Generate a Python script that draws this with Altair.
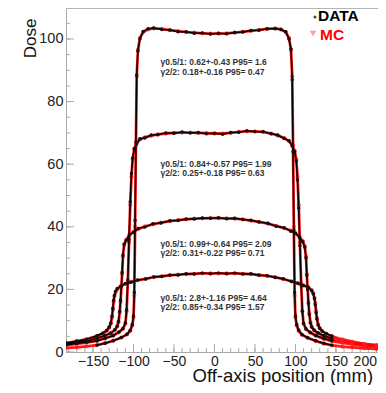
import altair as alt
import pandas as pd

# ---------------- data ----------------
x_A = [-183, -170, -158, -145, -135, -125, -115, -108, -104, -101.5, -100, -99, -98, -97, -96, -94.5, -92, -88, -82,
       -75, -65, -55, -45, -35, -25, -15, -5, 5, 15, 25, 35, 45, 55, 65, 75,
       82, 88, 92, 94.5, 96, 97, 98, 99, 100, 101.5, 104, 108, 115, 125, 135, 145, 158, 170, 185, 200, 212]
mc_A = [1.3, 1.5, 1.8, 2.2, 2.8, 3.6, 4.6, 5.6, 6.8, 8.5, 11, 18, 40, 66, 88, 96.5, 100.3, 102.2, 103.1,
        103.4, 103.2, 102.8, 102.5, 102.2, 102.0, 101.8, 101.7, 101.7, 101.8, 102.0, 102.3, 102.6, 102.9, 103.2, 103.4,
        103.1, 102.2, 100.3, 96.5, 88, 66, 40, 18, 11, 8.5, 6.7, 5.5, 4.5, 3.5, 2.7, 2.1, 1.7, 1.5, 1.2, 1.0, 0.9]
data_A = [None, None, None, 2.2, 2.8, 3.6, 4.6, 5.7, 6.9, 8.8, 11.5, 19, 42, 67, 88.5, 96.2, 100.1, 102.4, 103.3,
          103.5, 103.0, 102.9, 102.3, 102.3, 101.8, 101.9, 101.6, 101.8, 101.7, 102.1, 102.2, 102.7, 102.8, 103.3, 103.3,
          103.0, 102.3, 100.0, 96.8, 87, 64, 39, 19, 11.5, 8.8, 7.0, 5.6, 4.6, 3.6, 2.8, 2.2, None, None, None, None, None]

x_B = [-183, -170, -158, -145, -135, -125, -118, -113, -110, -108.5, -107, -105.5, -104, -102.5, -101, -99, -96, -92,
       -86, -78, -70, -60, -50, -40, -30, -20, -10, 0, 10, 20, 30, 40, 50, 60, 70, 78, 86, 92, 96, 99, 101, 102.5,
       104, 105.5, 107, 108.5, 110, 113, 118, 125, 135, 145, 158, 170, 185, 200, 212]
mc_B = [2.2, 2.6, 3.0, 3.6, 4.3, 5.3, 6.3, 7.4, 9.0, 13, 22, 35, 47, 56, 61.5, 64.8, 66.8, 67.9, 68.6, 69.1,
        69.5, 69.8, 70.0, 70.1, 70.1, 70.0, 69.9, 69.8, 69.8, 70.0, 70.3, 70.5, 70.5, 70.3, 69.8, 69.2,
        68.4, 67.4, 66.0, 64.3, 61.5, 56, 47, 35, 22, 13, 9.0, 7.3, 6.2, 5.2, 4.2, 3.5, 2.9, 2.5, 2.0, 1.7, 1.5]
data_B = [2.3, 2.7, 3.1, 3.5, 4.4, 5.2, 6.4, 7.5, 9.3, 13.5, 23, 36, 48, 57, 62, 65.0, 66.6, 68.1, 68.4, 69.3,
          69.4, 70.0, 69.9, 70.3, 70.0, 70.1, 69.7, 69.9, 69.6, 70.1, 70.2, 70.7, 70.4, 70.4, 69.7, 69.3,
          68.2, 67.5, 65.8, 64.0, 61, 55, 46, 34, 21.5, 13, 9.2, 7.4, 6.3, 5.3, 4.3, 3.6, None, None, None, None, None]

x_C = [-183, -170, -158, -145, -135, -128, -123, -120, -118.5, -117, -116, -115, -114, -113, -111.5, -109, -105, -100,
       -94, -86, -76, -66, -55, -45, -35, -25, -15, -5, 5, 15, 25, 35, 45, 55, 66, 76, 86, 94, 100, 105, 109, 111.5,
       113, 114, 115, 116, 117, 118.5, 120, 123, 128, 135, 145, 158, 170, 185, 200, 212]
mc_C = [2.5, 3.0, 3.5, 4.3, 5.2, 6.1, 7.0, 8.2, 9.5, 12.5, 16, 20.5, 25, 30.5, 34.2, 35.8, 37.3, 38.4, 39.3,
        40.1, 40.8, 41.3, 41.8, 42.1, 42.4, 42.6, 42.7, 42.8, 42.8, 42.7, 42.6, 42.4, 42.0, 41.6, 41.0, 40.3, 39.6,
        38.8, 37.9, 36.8, 35.4, 33.8, 30.5, 25, 20.5, 16, 12.5, 9.5, 8.1, 6.9, 6.0, 5.1, 4.2, 3.4, 2.9, 2.4, 2.0, 1.8]
data_C = [2.6, 3.1, 3.4, 4.4, 5.3, 6.0, 7.1, 8.3, 9.8, 13, 16.5, 21, 25.5, 31, 34.5, 35.6, 37.5, 38.2, 39.5,
          39.9, 41.0, 41.2, 41.9, 42.0, 42.5, 42.5, 42.8, 42.7, 42.9, 42.6, 42.7, 42.3, 42.1, 41.5, 41.1, 40.2, 39.7,
          38.6, 38.0, 36.6, 35.2, 33.5, 30, 24.5, 20, 15.5, 12, 9.3, 8.0, 7.0, 6.1, 5.2, 4.3, None, None, None, None, None]

x_D = [-183, -170, -158, -145, -138, -133, -130, -128, -126.5, -125.5, -124.5, -123.5, -122, -120, -116, -110, -103,
       -95, -85, -75, -65, -55, -45, -35, -25, -15, -5, 5, 15, 25, 35, 45, 55, 65, 75, 85, 95, 103, 110, 116, 120,
       122, 123.5, 124.5, 125.5, 126.5, 128, 130, 133, 138, 145, 158, 170, 185, 200, 212]
mc_D = [2.8, 3.4, 4.1, 5.1, 5.9, 6.8, 7.8, 9.0, 11, 13.5, 16, 17.8, 19.2, 20.1, 21.0, 21.8, 22.4, 22.9, 23.4,
        23.9, 24.2, 24.5, 24.7, 24.9, 25.0, 25.1, 25.1, 25.1, 25.1, 25.1, 25.0, 24.9, 24.6, 24.3, 23.9, 23.3,
        22.6, 21.9, 21.3, 20.6, 19.8, 18.8, 17.3, 15.5, 13, 10.8, 8.8, 7.6, 6.7, 5.8, 5.0, 4.0, 3.3, 2.6, 2.2, 1.9]
data_D = [2.9, 3.5, 4.0, 5.2, 6.0, 6.9, 8.0, 9.3, 11.5, 14, 16.5, 18.1, 19.4, 20.3, 20.9, 21.9, 22.3, 23.0, 23.3,
          24.0, 24.1, 24.6, 24.6, 25.0, 24.9, 25.2, 25.0, 25.2, 25.0, 25.2, 24.9, 25.0, 24.5, 24.4, 23.8, 23.4,
          22.5, 22.0, 21.2, 20.7, 19.6, 18.5, 17, 15, 12.5, 10.5, 8.6, 7.5, 6.6, 5.9, 5.1, None, None, None, None, None]

# annotation texts (x in mm, y in dose units)
ann_x = [-66.7] * 8
ann_y = [92.5, 89.6, 60.0, 57.1, 34.6, 31.7, 17.1, 14.3]
ann_text = [
    "γ0.5/1: 0.62+-0.43 P95= 1.6", "γ2/2: 0.18+-0.16 P95= 0.47",
    "γ0.5/1: 0.84+-0.57 P95= 1.99", "γ2/2: 0.25+-0.18 P95= 0.63",
    "γ0.5/1: 0.99+-0.64 P95= 2.09", "γ2/2: 0.31+-0.22 P95= 0.71",
    "γ0.5/1: 2.8+-1.16 P95= 4.64", "γ2/2: 0.85+-0.34 P95= 1.57",
]

legend_labels = ["DATA", "MC"]
legend_colors = ["#000000", "#ff0000"]

x_ticks = [-150, -100, -50, 0, 50, 100, 150, 200]
y_ticks = [0, 20, 40, 60, 80, 100]
x_minor = list(range(-180, 201, 10))
y_minor = list(range(0, 110, 5))

# ---------------- build tables ----------------
mc_rows, data_rows = [], []
for p, xs, mc, dt in [("A", x_A, mc_A, data_A), ("B", x_B, mc_B, data_B),
                      ("C", x_C, mc_C, data_C), ("D", x_D, mc_D, data_D)]:
    assert len(xs) == len(mc) == len(dt), (p, len(xs), len(mc), len(dt))
    for xv, m, d in zip(xs, mc, dt):
        mc_rows.append({"prof": p, "x": xv, "dose": m})
        if d is not None:
            data_rows.append({"prof": p, "x": xv, "dose": d})
df_mc = pd.DataFrame(mc_rows)
df_data = pd.DataFrame(data_rows)
df_ann = pd.DataFrame({"x": ann_x, "y": ann_y, "t": ann_text})
df_xt = pd.DataFrame({"v": x_minor, "major": [v % 50 == 0 for v in x_minor]})
df_yt = pd.DataFrame({"v": y_minor, "major": [v % 20 == 0 for v in y_minor]})

W, H = 312, 344
FONT = "Liberation Sans"
xs_ = alt.Scale(domain=[-183.3, 201.9], nice=False, zero=False)
ys_ = alt.Scale(domain=[0, 109.9], nice=False, zero=False)

xaxis = alt.Axis(values=x_ticks, ticks=False, grid=False, format="d", labelFontSize=14, labelFont=FONT,
                 labelColor="#222", labelPadding=2, labelFlush=10, domainColor="#aaaaaa",
                 title="Off-axis position (mm)", titleFont=FONT, titleFontSize=18.5, titleFontWeight="normal",
                 titleColor="#111", titleX=126, titleY=29.5, titleAlign="left", titleBaseline="alphabetic")
yaxis = alt.Axis(values=y_ticks, ticks=False, grid=False, format="d", labelFontSize=14.5, labelFont=FONT,
                 labelColor="#222", labelPadding=3, labelFlush=False, domainColor="#aaaaaa",
                 title="Dose", titleFont=FONT, titleFontSize=17, titleFontWeight="normal",
                 titleColor="#111", titleX=-31, titleY=10, titleAlign="right", titleBaseline="alphabetic")

X = lambda f: alt.X(f, type="quantitative", scale=xs_, axis=xaxis)
Y = lambda f: alt.Y(f, type="quantitative", scale=ys_, axis=yaxis)

mc_line = alt.Chart(df_mc).mark_line(color="#ff0000", strokeWidth=2.8, opacity=0.9, clip=True).encode(
    x=X("x"), y=Y("dose"), detail="prof:N", order="x:Q")
mc_pts = alt.Chart(df_mc).mark_point(shape="circle", filled=True, color="#ff1a1a", size=18, opacity=0.65,
                                     clip=True).encode(x=X("x"), y=Y("dose"))
data_line = alt.Chart(df_data).mark_line(color="#000000", strokeWidth=1.5, clip=True).encode(
    x=X("x"), y=Y("dose"), detail="prof:N", order="x:Q")
data_pts = alt.Chart(df_data).mark_point(shape="circle", filled=True, color="#111111", size=12, opacity=1,
                                         clip=True).encode(x=X("x"), y=Y("dose"))

ann = alt.Chart(df_ann).mark_text(align="left", baseline="middle", font=FONT, fontSize=8.5,
                                  fontWeight="bold", color="#333333").encode(x=X("x"), y=Y("y"), text="t")

xt_minor = alt.Chart(df_xt).mark_rule(color="#aaaaaa", strokeWidth=1).encode(
    x=X("v"), y=alt.value(H), y2=alt.value(H - 4))
xt_major = alt.Chart(df_xt[df_xt.major]).mark_rule(color="#aaaaaa", strokeWidth=1).encode(
    x=X("v"), y=alt.value(H), y2=alt.value(H - 8))
yt_minor = alt.Chart(df_yt).mark_rule(color="#aaaaaa", strokeWidth=1).encode(
    y=Y("v"), x=alt.value(0), x2=alt.value(4))
yt_major = alt.Chart(df_yt[df_yt.major]).mark_rule(color="#aaaaaa", strokeWidth=1).encode(
    y=Y("v"), x=alt.value(0), x2=alt.value(8))

leg_df = pd.DataFrame({"t": legend_labels, "c": legend_colors, "px": [252, 254], "py": [8, 27]})
leg_text = alt.Chart(leg_df).mark_text(align="left", baseline="middle", font=FONT, fontSize=15.5,
                                       fontWeight="bold").encode(
    x=alt.X("px:Q", scale=None), y=alt.Y("py:Q", scale=None), text="t", color=alt.Color("c:N", scale=None))
leg_dot = alt.Chart(pd.DataFrame({"k": [1]})).mark_point(shape="circle", filled=True, color="#000000",
                                                        size=10).encode(x=alt.value(249), y=alt.value(9))
leg_mc = alt.Chart(pd.DataFrame({"k": [1]})).mark_point(shape="triangle-down", filled=False, color="#ff6060",
                                                       size=10, opacity=0.6).encode(x=alt.value(247), y=alt.value(25))

chart = alt.layer(
    xt_minor, xt_major, yt_minor, yt_major,
    mc_line, mc_pts, data_line, data_pts, ann, leg_text, leg_dot, leg_mc
).properties(
    width=W, height=H,
    autosize=alt.AutoSizeParams(type="none"),
    padding={"left": 58, "top": 0, "right": 0, "bottom": 33},
    background="white",
).configure_view(stroke="#b5b5b5", strokeWidth=1)

chart.save("out.html", embed_options={"renderer": "svg", "actions": False})
